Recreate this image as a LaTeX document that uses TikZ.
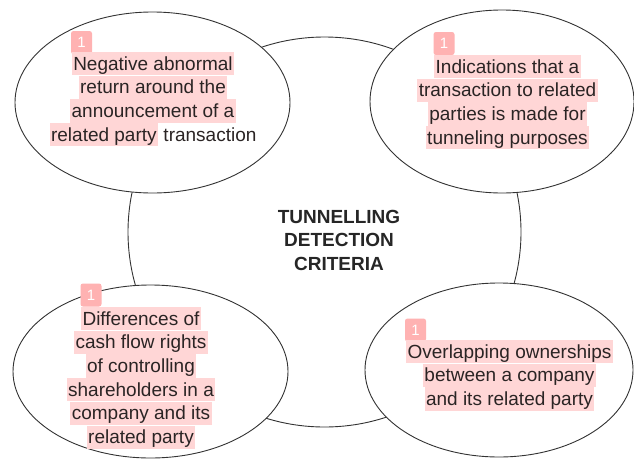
\documentclass[tikz,border=0pt]{standalone}
\usepackage{fontspec}
\setmainfont{Liberation Sans}
\usetikzlibrary{shapes.geometric,positioning}
\definecolor{hlpink}{RGB}{255,214,214}
\definecolor{badgepink}{RGB}{255,178,178}
\definecolor{inkgray}{RGB}{51,51,51}
\definecolor{txtdark}{RGB}{42,36,36}
% highlight for part of a line
\newcommand\hlpart[1]{{\fboxsep=0pt\colorbox{hlpink}{\hspace{1.5pt}\rule[-5.3pt]{0pt}{23.3pt}#1\hspace{1.5pt}}}}

\begin{document}
\begin{tikzpicture}[x=1pt,y=-1pt,
    bubble/.style={draw=inkgray, line width=0.9pt, fill=white, ellipse, inner sep=0pt},
    txtline/.style={font=\fontsize{19}{23}\selectfont, text=txtdark, inner xsep=1.5pt, inner ysep=0pt, text height=18pt, text depth=5.3pt},
    hl/.style={txtline, fill=hlpink},
    badge/.style={fill=badgepink, rounded corners=2.5pt, text=white, font=\fontsize{15}{15}\selectfont, minimum width=21pt, minimum height=23pt, inner sep=0pt},
    title/.style={font=\bfseries\fontsize{19}{23}\selectfont, text=black!85, inner ysep=0pt, text height=18pt, text depth=5.3pt}]
    \useasboundingbox[fill=white] (0,0) rectangle (634,461);

    % the big circle in the middle
    \node[bubble, minimum width=393pt, minimum height=390pt] (criteria) at (324.5,232) {};
    \node[title, anchor=base] (titleA) at (339,223) {TUNNELLING};
    \node[title, below=0pt of titleA] (titleB) {DETECTION};
    \node[title, below=0pt of titleB] (titleC) {CRITERIA};

    % the four criteria
    \node[bubble, minimum width=275pt, minimum height=181pt] (abnormal) at (152.5,102.5) {};
    \node[bubble, minimum width=264pt, minimum height=183pt] (indication) at (502,101.5) {};
    \node[bubble, minimum width=275pt, minimum height=173pt] (cashflow) at (150.5,371.5) {};
    \node[bubble, minimum width=268pt, minimum height=174pt] (overlap) at (499,370) {};

    % top left
    \node[badge] (abnBadge) at (81.5,42.5) {1};
    \node[hl, anchor=base] (abnA) at (153,70) {Negative abnormal};
    \node[hl, below=0pt of abnA] (abnB) {return around the};
    \node[hl, below=0pt of abnB] (abnC) {announcement of a};
    \node[txtline, inner xsep=0pt, below=0pt of abnC] (abnD) {\hlpart{related party} transaction};

    % top right
    \node[badge] (indBadge) at (444,43.5) {1};
    \node[hl, anchor=base] (indA) at (507.5,73) {Indications that a};
    \node[hl, below=0pt of indA] (indB) {transaction to related};
    \node[hl, below=0pt of indB] (indC) {parties is made for};
    \node[hl, below=0pt of indC] (indD) {tunneling purposes};

    % bottom left
    \node[badge] (cashBadge) at (91,295) {1};
    \node[hl, anchor=base] (cashA) at (141,325) {Differences of};
    \node[hl, below=0pt of cashA] (cashB) {cash flow rights};
    \node[hl, below=0pt of cashB] (cashC) {of controlling};
    \node[hl, below=0pt of cashC] (cashD) {shareholders in a};
    \node[hl, below=0pt of cashD] (cashE) {company and its};
    \node[hl, below=0pt of cashE] (cashF) {related party};

    % bottom right
    \node[badge] (ovlBadge) at (415.5,330) {1};
    \node[hl, anchor=base] (ovlA) at (509.5,358) {Overlapping ownerships};
    \node[hl, below=0pt of ovlA] (ovlB) {between a company};
    \node[hl, below=0pt of ovlB] (ovlC) {and its related party};
\end{tikzpicture}
\end{document}
